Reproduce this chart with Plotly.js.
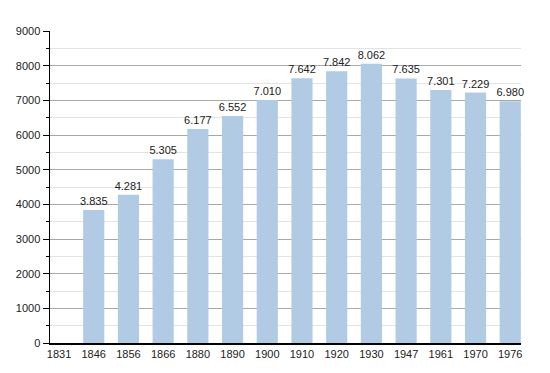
<!DOCTYPE html>
<html><head><meta charset="utf-8">
<script src="https://cdn.plot.ly/plotly-3.0.1.min.js"></script>
<style>html,body{margin:0;padding:0;background:#fff;}</style>
</head><body>
<div id="chart" style="width:550px;height:373px;"></div>
<script>
const years = ["1831","1846","1856","1866","1880","1890","1900","1910","1920","1930","1947","1961","1970","1976"];
const population = [null,3835,4281,5305,6177,6552,7010,7642,7842,8062,7635,7301,7229,6980];
const yTicks = [0,1000,2000,3000,4000,5000,6000,7000,8000,9000];

const labels = population.map(v => v == null ? "" : String(v).replace(/\B(?=(\d{3})+(?!\d))/g, "."));

Plotly.newPlot("chart", [{
  type: "bar",
  x: years,
  y: population,
  text: labels,
  textposition: "outside",
  constraintext: "none",
  cliponaxis: false,
  textfont: {family: "Liberation Sans, Arial, sans-serif", size: 11, color: "#222"},
  marker: {color: "#b1cbe5"},
  width: 0.61,
  hoverinfo: "x+y"
}], {
  width: 550, height: 373,
  margin: {l: 50, r: 29, t: 31, b: 30},
  paper_bgcolor: "#fff", plot_bgcolor: "#fff",
  showlegend: false,
  font: {family: "Liberation Sans, Arial, sans-serif", size: 11, color: "#222"},
  xaxis: {
    type: "category",
    range: [-0.26, 13.31],
    showgrid: false,
    showline: true, linecolor: "#000", linewidth: 1.5,
    ticks: "", tickfont: {size: 11, color: "#222"},
    fixedrange: true
  },
  yaxis: {
    range: [0, 9004],
    tickvals: yTicks,
    showline: true, linecolor: "#000", linewidth: 1.5,
    ticks: "outside", ticklen: 6, tickcolor: "#000",
    gridcolor: "#a8a8a8", gridwidth: 1,
    zeroline: false,
    minor: {dtick: 500, showgrid: true, gridcolor: "#e3e3e3", ticks: "outside", ticklen: 3, tickcolor: "#000"},
    tickfont: {size: 11, color: "#222"},
    fixedrange: true
  },
  bargap: 0.39
}, {displayModeBar: false, staticPlot: true});
</script>
</body></html>
